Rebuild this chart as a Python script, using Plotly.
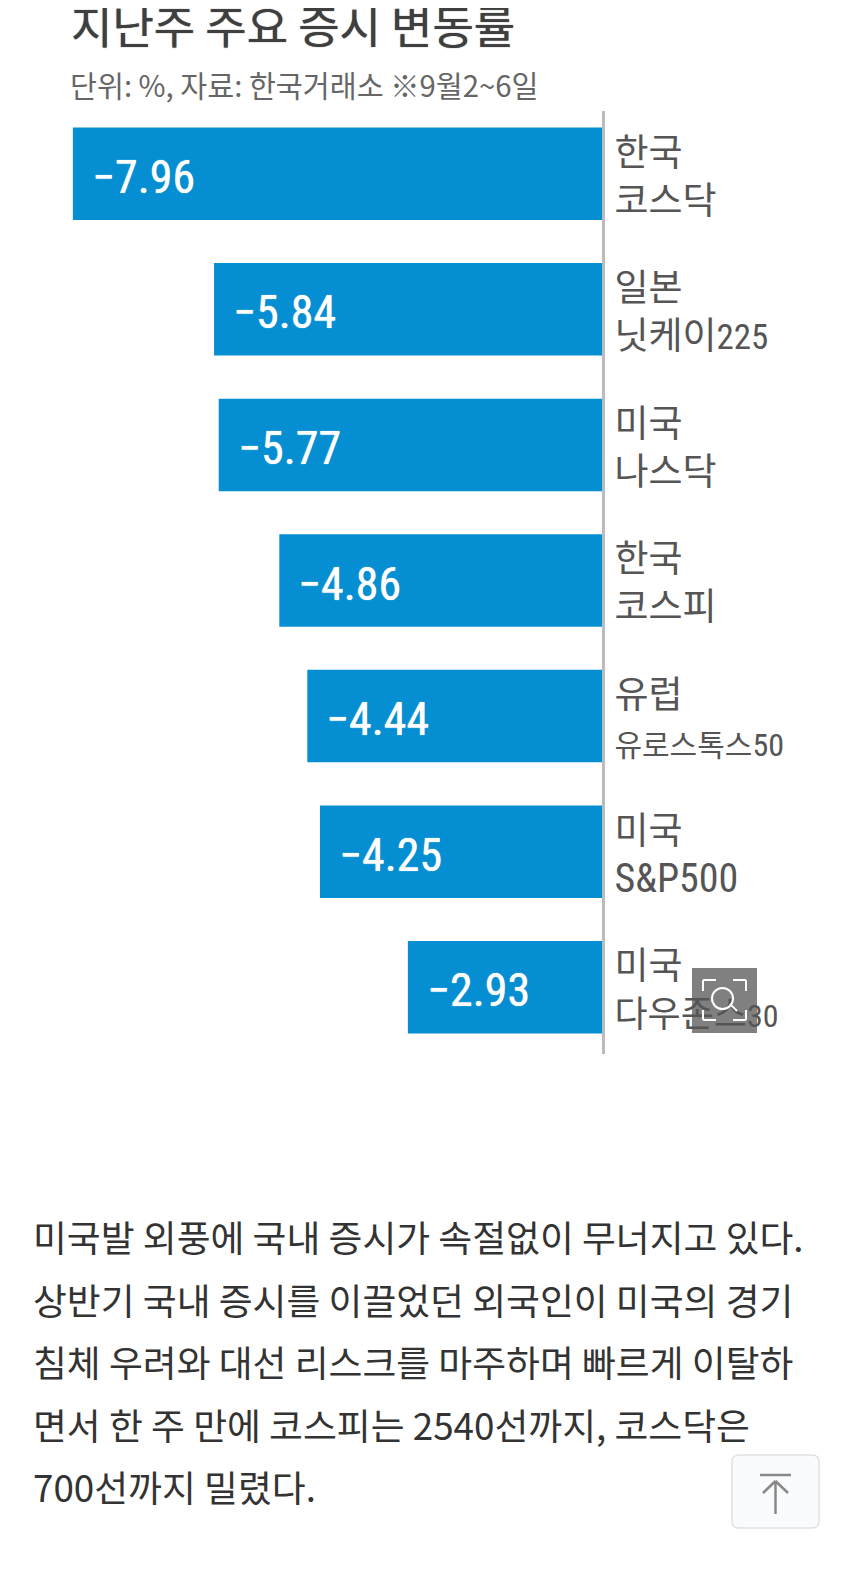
import re
import plotly.graph_objects as go

OFFSET = 8  # the page keeps an 8px margin round the figure
PAGE_W, PAGE_H = 850, 1575
W, H = PAGE_W - OFFSET, PAGE_H - OFFSET
markets = ["한국<br>코스닥", "일본<br>닛케이225", "미국<br>나스닥", "한국<br>코스피", "유럽<br>유로스톡스50", "미국<br>S&P500", "미국<br>다우존스30"]
values = [-7.96, -5.84, -5.77, -4.86, -4.44, -4.25, -2.93]
title = "지난주 주요 증시 변동률"
subtitle = "단위: %, 자료: 한국거래소 ※9월2~6일"
body_lines = [
    "미국발 외풍에 국내 증시가 속절없이 무너지고 있다.",
    "상반기 국내 증시를 이끌었던 외국인이 미국의 경기",
    "침체 우려와 대선 리스크를 마주하며 빠르게 이탈하",
    "면서 한 주 만에 코스피는 2540선까지, 코스닥은",
    "700선까지 밀렸다.",
]
body_y = [1236, 1299, 1361, 1424, 1486]

NARROW = "Roboto Condensed, Liberation Sans, Noto Sans CJK KR, sans-serif"
CJK = "Noto Sans CJK KR, sans-serif"
BLUE = "#058fd2"

def py(p):
    return 1 - (p - OFFSET) / H
def px(p):
    return (p - OFFSET) / W

zero_px, unit = 603, 66.6
ytop, ybot = 111, 1054
c0, step = 173.7, 135.6

# second-line sizes (hangul, latin) where the original type is set tighter
TAIL_SIZES = {"닛케이225": (37, 35), "유로스톡스50": (30, 32), "S&P500": (37, 40), "다우존스30": (36, 32)}

def styled_label(label):
    head, tail = label.split("<br>")
    if tail not in TAIL_SIZES:
        return label
    hs, ls = TAIL_SIZES[tail]
    parts = re.findall(r"[A-Za-z0-9&]+|[^A-Za-z0-9&]+", tail)
    out = "".join(
        f'<span style="font-size:{ls if re.match(r"[A-Za-z0-9&]", p) else hs}px">{p}</span>' for p in parts
    )
    return head + "<br>" + out

fig = go.Figure(go.Bar(
    x=values, y=list(range(len(values))), orientation="h", width=92.5 / step,
    marker=dict(color=BLUE, line=dict(width=0)), showlegend=False, hoverinfo="skip",
))

ann = []
for i, v in enumerate(values):
    ann.append(dict(x=v, y=i, xref="x", yref="y", xanchor="left", yanchor="middle", xshift=17, yshift=-3,
                    text=f"−{abs(v):.2f}", showarrow=False,
                    font=dict(family=NARROW, size=46, color="white", shadow="0 0 1px #ffffff")))
ann.append(dict(x=px(69), y=py(25), xref="paper", yref="paper", xanchor="left", yanchor="middle",
                text=title, showarrow=False, font=dict(family=CJK, size=45, color="#3f3f3f", shadow="0 0 1px #3f3f3f")))
ann.append(dict(x=px(68), y=py(84), xref="paper", yref="paper", xanchor="left", yanchor="middle",
                text=subtitle, showarrow=False, font=dict(family=CJK, size=29.3, color="#666666")))
for t, yy in zip(body_lines, body_y):
    ann.append(dict(x=px(31), y=py(yy), xref="paper", yref="paper", xanchor="left", yanchor="middle",
                    text=t, showarrow=False, font=dict(family=CJK, size=36.8, color="#333333")))

shapes = []
def rect(x0, y0, x1, y1, **kw):
    shapes.append(dict(type="rect", xref="paper", yref="paper", x0=px(x0), x1=px(x1), y0=py(y0), y1=py(y1), **kw))
def line(x0, y0, x1, y1, color, w):
    shapes.append(dict(type="line", xref="paper", yref="paper", x0=px(x0), x1=px(x1), y0=py(y0), y1=py(y1),
                       line=dict(color=color, width=w)))

# zoom overlay icon
rect(692, 968, 757, 1033, fillcolor="rgba(85,85,85,0.75)", line=dict(width=0))
for a in [(703, 991, 703, 980), (703, 980, 716, 980), (746, 991, 746, 980), (746, 980, 733, 980),
          (703, 1010, 703, 1020), (703, 1020, 716, 1020), (746, 1010, 746, 1020), (746, 1020, 733, 1020),
          (730, 1004, 737, 1011)]:
    line(*a, "white", 2)
shapes.append(dict(type="circle", xref="paper", yref="paper", x0=px(712), x1=px(733), y0=py(988), y1=py(1009),
                   line=dict(color="white", width=2)))

# scroll-to-top button
def rr(x0, y0, x1, y1, r):
    f = lambda a, b: f"{px(a)} {py(b)}"
    return (f"M {f(x0+r,y0)} L {f(x1-r,y0)} Q {f(x1,y0)} {f(x1,y0+r)} L {f(x1,y1-r)} Q {f(x1,y1)} {f(x1-r,y1)} "
            f"L {f(x0+r,y1)} Q {f(x0,y1)} {f(x0,y1-r)} L {f(x0,y0+r)} Q {f(x0,y0)} {f(x0+r,y0)} Z")
shapes.append(dict(type="path", xref="paper", yref="paper", path=rr(732, 1455, 819, 1528, 7),
                   fillcolor="#fafbfd", line=dict(color="#e2e2e2", width=1.5)))
line(760, 1475, 791, 1475, "#888888", 2.5)
line(775.5, 1481, 775.5, 1514, "#888888", 2.5)
line(763, 1493, 775.5, 1481, "#888888", 2.5)
line(788, 1493, 775.5, 1481, "#888888", 2.5)

fig.update_layout(
    width=W, height=H, autosize=False, margin=dict(l=0, r=0, t=0, b=0),
    paper_bgcolor="white", plot_bgcolor="white", annotations=ann, shapes=shapes,
    xaxis=dict(range=[-(zero_px - OFFSET) / unit, (PAGE_W - zero_px) / unit], domain=[0, 1], visible=False, fixedrange=True),
    yaxis=dict(
        range=[(ybot - c0) / step, (ytop - c0) / step], domain=[py(ybot), py(ytop)],
        anchor="free", position=px(zero_px), side="right",
        tickmode="array", tickvals=list(range(len(markets))), ticktext=[styled_label(m) for m in markets],
        tickfont=dict(family=NARROW, size=37, color="#555555"),
        showline=True, linecolor="#bbbbbb", linewidth=3, showgrid=False, zeroline=False,
        ticks="outside", ticklen=2, tickcolor="rgba(0,0,0,0)", fixedrange=True, ticklabelshift=-3,
    ),
)
fig.write_html("out.html", config={"displayModeBar": False})
